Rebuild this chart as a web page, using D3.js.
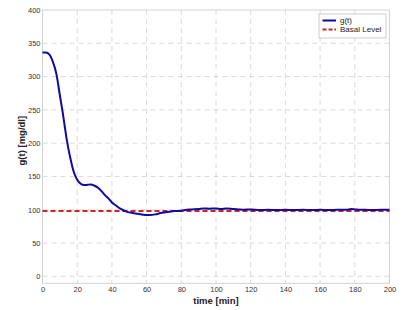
<!DOCTYPE html>
<html>
<head>
<meta charset="utf-8">
<script src="https://cdn.jsdelivr.net/npm/d3@7"></script>
<style>
  body { margin: 0; background: #fff; }
  svg { display: block; font-family: "Liberation Sans", Arial, sans-serif; }
  .axis text { fill: #333; font-size: 7.5px; }
  .axis .domain { display: none; }
  .grid line { stroke: #d0d0d0; stroke-dasharray: 5,4; stroke-width: 0.8; }
</style>
</head>
<body>
<div id="chart"></div>
<script>
// time [min]
var times = [0, 2, 4, 6, 8, 10, 12, 13, 14, 16, 18, 20, 22, 24, 26, 28, 30, 32, 34, 36, 38, 40,
  42, 44, 46, 48, 50, 52, 55, 58, 60, 62, 65, 68, 70, 73, 76, 80, 83, 86, 90, 93, 96, 100,
  103, 106, 110, 113, 116, 120, 125, 130, 135, 140, 145, 150, 155, 160, 165, 170, 175, 178,
  180, 183, 186, 190, 195, 200];
// g(t) [mg/dl]
var glucose = [336, 336, 333, 322, 304, 272, 240, 222, 205, 178, 157, 145, 139, 137, 137.5, 138,
  136, 133, 128, 122, 117, 111, 107, 103, 100, 97.5, 96, 95, 94, 92.5, 92, 92, 93, 95, 96, 97,
  98, 98.5, 100, 100.5, 101, 102, 101.5, 102, 101, 102, 101, 100.5, 100, 100.5, 99.5, 100,
  99.5, 100, 99.5, 99.8, 99.5, 100, 99.5, 100, 100, 101, 100.5, 99.8, 100, 99.5, 100, 100];
var basalLevel = 98;

var xTicks = [0, 20, 40, 60, 80, 100, 120, 140, 160, 180, 200];
var yTicks = [0, 50, 100, 150, 200, 250, 300, 350, 400];
var legendLabels = ["g(t)", "Basal Level"];

var W = 407, H = 310;
var margin = {top: 10, right: 17.5, bottom: 26.7, left: 42.5};
var width = W - margin.left - margin.right,
    height = H - margin.top - margin.bottom;

var svg = d3.select("#chart").append("svg")
    .attr("width", W)
    .attr("height", H)
  .append("g")
    .attr("transform", `translate(${margin.left},${margin.top})`);

var x = d3.scaleLinear().domain([0, 200]).range([0, width]);
var y = d3.scaleLinear().domain([-10.5, 400]).range([height, 0]);

// grid
svg.append("g")
    .attr("class", "grid")
  .selectAll("line.v")
    .data(xTicks.filter(d => d > 0 && d < 200))
  .enter().append("line")
    .attr("x1", d => x(d)).attr("x2", d => x(d))
    .attr("y1", 0).attr("y2", height);

svg.select(".grid").selectAll("line.h")
    .data(yTicks.filter(d => d < 400))
  .enter().append("line")
    .attr("x1", 0).attr("x2", width)
    .attr("y1", d => y(d)).attr("y2", d => y(d));

// box
svg.append("rect")
    .attr("width", width)
    .attr("height", height)
    .attr("fill", "none")
    .attr("stroke", "#c8c8c8")
    .attr("stroke-width", 0.8);

svg.append("g")
    .attr("class", "axis")
    .attr("transform", `translate(0,${height})`)
    .call(d3.axisBottom(x).tickValues(xTicks).tickSize(0).tickPadding(3));

svg.append("g")
    .attr("class", "axis")
    .call(d3.axisLeft(y).tickValues(yTicks).tickSize(0).tickPadding(2));

// basal level
svg.append("line")
    .attr("x1", x(0)).attr("x2", x(200))
    .attr("y1", y(basalLevel)).attr("y2", y(basalLevel))
    .attr("stroke", "#d42020")
    .attr("stroke-width", 2)
    .attr("stroke-dasharray", "5,3");

var line = d3.line()
    .x((d, i) => x(times[i]))
    .y(d => y(d))
    .curve(d3.curveMonotoneX);

svg.append("path")
    .datum(glucose)
    .attr("fill", "none")
    .attr("stroke", "#0c0ca0")
    .attr("stroke-width", 2)
    .attr("d", line);

// labels
svg.append("text")
    .attr("x", width / 2)
    .attr("y", height + 21)
    .attr("text-anchor", "middle")
    .style("font-size", "9.5px")
    .style("font-weight", "bold")
    .attr("fill", "#222")
    .text("time [min]");

svg.append("text")
    .attr("transform", `translate(${-20.5},${height / 2 - 6}) rotate(-90)`)
    .attr("text-anchor", "middle")
    .attr("dy", "0.35em")
    .style("font-size", "9.5px")
    .style("font-weight", "bold")
    .attr("fill", "#222")
    .text("g(t) [mg/dl]");

// legend
var lg = svg.append("g")
    .attr("transform", `translate(${319 - margin.left},${14 - margin.top})`);

lg.append("rect")
    .attr("width", 67)
    .attr("height", 24)
    .attr("fill", "#fff")
    .attr("stroke", "#c0c0c0")
    .attr("stroke-width", 0.8);

var items = lg.selectAll("g.item")
    .data(legendLabels)
  .enter().append("g")
    .attr("transform", (d, i) => `translate(0,${6.5 + i * 9})`);

items.append("line")
    .attr("x1", 3.5).attr("x2", 17)
    .attr("stroke", (d, i) => i === 0 ? "#0c0ca0" : "#d42020")
    .attr("stroke-width", 2)
    .attr("stroke-dasharray", (d, i) => i === 0 ? null : "4,2");

items.append("text")
    .attr("x", 21)
    .attr("dy", "0.35em")
    .style("font-size", "8px")
    .attr("fill", "#222")
    .text(d => d);
</script>
</body>
</html>
